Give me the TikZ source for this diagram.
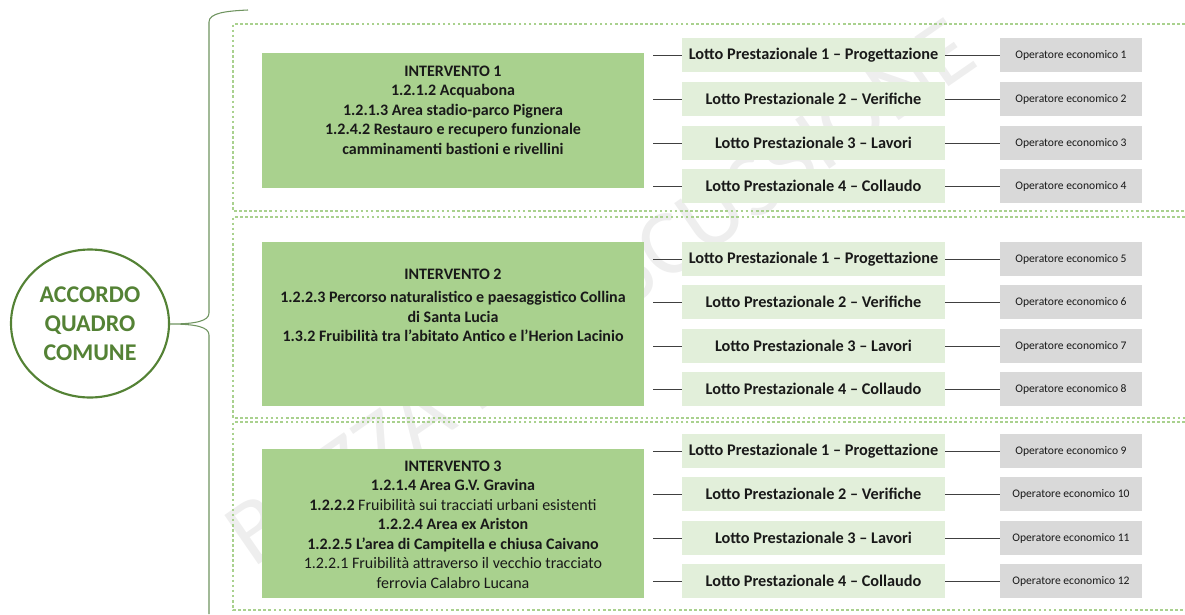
\documentclass[tikz,border=0pt]{standalone}
\usepackage{fontspec}
\setmainfont{Carlito}
\usetikzlibrary{shapes.geometric}
\definecolor{dgreen}{HTML}{548235}
\definecolor{bracec}{HTML}{6F9460}
\definecolor{mgreen}{HTML}{A9D18E}
\definecolor{lgreen}{HTML}{E2EFDA}
\definecolor{lgray}{HTML}{D9D9D9}
\definecolor{linec}{HTML}{404040}
\definecolor{wmark}{HTML}{EEEEEE}
\begin{document}
\begin{tikzpicture}[x=0.75pt,y=-0.75pt,
  lotto/.style={fill=lgreen, minimum width=197.25pt, minimum height=25.5pt, inner sep=0pt,
    font=\fontsize{12.2}{14}\selectfont\bfseries, text=black!90},
  opbox/.style={fill=lgray, minimum width=106.5pt, minimum height=25.5pt, inner sep=0pt,
    font=\fontsize{8.7}{10}\selectfont, text=black!90},
  ibox/.style={fill=mgreen, minimum width=286.5pt, inner sep=0pt},
  itext/.style={align=center, font=\fontsize{12}{14.6}\selectfont\bfseries, text=black!90, inner sep=0pt},
  conn/.style={draw=linec, line width=0.6pt},
  sect/.style={draw=mgreen, line width=2.2pt, dash pattern=on 2pt off 1.8pt},
  bracel/.style={draw=bracec, line width=0.8pt}
]
\useasboundingbox (0,0) rectangle (1185,614);

% watermark
\node[text=wmark, inner sep=0pt, font=\fontsize{70}{70}\selectfont] (wm) at (600,292)
  {\rotatebox{34.7}{BOZZA DI DISCUSSIONE}};

% sections (dotted frames)
\draw[sect] (1185,24) -- (233,24) -- (233,211) -- (1185,211);
\draw[sect] (1185,217) -- (233,217) -- (233,418) -- (1185,418);
\draw[sect] (1185,422) -- (233,422) -- (233,610) -- (1185,610);

% main ellipse
\node[draw=dgreen, line width=1.6pt, ellipse, minimum width=118.5pt, minimum height=111pt,
  align=center, text=dgreen, font=\fontsize{18}{21.75}\selectfont\bfseries] (acc) at (90,323.5)
  {ACCORDO\\QUADRO\\COMUNE};

% brace
\coordinate (btop) at (248,10);
\coordinate (btip) at (170,324);
\coordinate (bbot) at (209,614);
\draw[bracel] (btop) .. controls (226,11) and (209,13) .. (209,22) -- (209,313)
  .. controls (209,321) and (196,324) .. (btip)
  .. controls (196,324) and (209,327) .. (209,335) -- (bbot);

% intervento boxes
\node[ibox, minimum height=101.25pt] (i1) at (453,120.5) {};
\node[itext] (t1) at (453,110) {INTERVENTO 1\\1.2.1.2 Acquabona\\1.2.1.3 Area stadio-parco Pignera\\1.2.4.2 Restauro e recupero funzionale\\camminamenti bastioni e rivellini};

\node[ibox, minimum height=123pt] (i2) at (453,324) {};
\node[itext] (t2) at (453,305.5) {INTERVENTO 2\\[3pt]1.2.2.3 Percorso naturalistico e paesaggistico Collina\\di Santa Lucia\\1.3.2 Fruibilità tra l'abitato Antico e l'Herion Lacinio};

\node[ibox, minimum height=111.75pt] (i3) at (453,523.5) {};
\node[itext] (t3) at (453,524.5) {INTERVENTO 3\\1.2.1.4 Area G.V. Gravina\\1.2.2.2 \mdseries Fruibilità sui tracciati urbani esistenti\\1.2.2.4 Area ex Ariston\\1.2.2.5 L'area di Campitella e chiusa Caivano\\\mdseries 1.2.2.1 Fruibilità attraverso il vecchio tracciato\\\mdseries ferrovia Calabro Lucana};

% lotti and operators
\foreach \s/\ys in {1/{55,99,143,186},2/{259,302,346,389},3/{451,494,538,581}} {
  \foreach \y [count=\r] in \ys {
    \pgfmathtruncatemacro\n{(\s-1)*4+\r}
    \coordinate (c\s\r) at (653,\y);
    \node[lotto] (L\s\r) at (813.5,\y) {Lotto Prestazionale \r\ – \ifcase\r\or Progettazione\or Verifiche\or Lavori\or Collaudo\fi};
    \node[opbox] (O\s\r) at (1071,\y) {Operatore economico \n};
    \draw[conn] (c\s\r) -- (L\s\r.west);
    \draw[conn] (L\s\r.east) -- (O\s\r.west);
  }
}
\end{tikzpicture}
\end{document}
